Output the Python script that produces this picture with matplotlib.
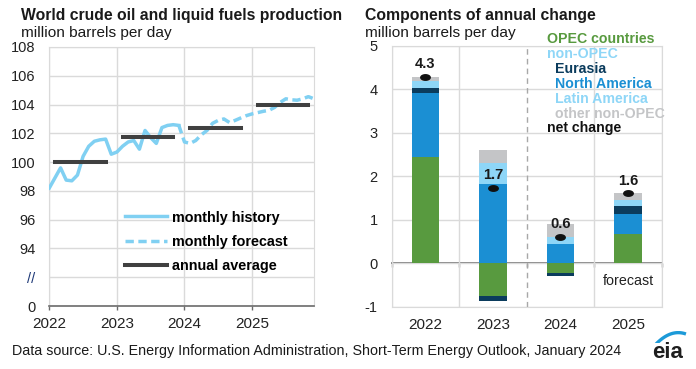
import numpy as np
import matplotlib
matplotlib.use("Agg")
import matplotlib.pyplot as plt
from matplotlib.lines import Line2D
from matplotlib.path import Path

plt.rcParams['font.family'] = ['Liberation Sans', 'DejaVu Sans']

# ---------------- data ----------------
hist_values = [98.2, 98.9, 99.6, 98.75, 98.7, 99.1, 100.4, 101.1, 101.45, 101.55, 101.6, 100.55,
               100.7, 101.1, 101.4, 101.5, 100.9, 102.2, 101.7, 101.3, 102.4, 102.55, 102.6, 102.55]
fcst_values = [102.55,
               101.4, 101.3, 101.5, 101.9, 102.2, 102.7, 102.9, 103.0, 102.75, 102.9, 103.07, 103.23,
               103.35, 103.44, 103.53, 103.6, 103.8, 104.15, 104.4, 104.33, 104.3, 104.4, 104.55, 104.4]
years = [2022, 2023, 2024, 2025]
annual_avg = [100.0, 101.75, 102.35, 103.95]

left_yticks = [90, 92, 94, 96, 98, 100, 102, 104, 106, 108]
left_yticklabels = ['0', '//', '94', '96', '98', '100', '102', '104', '106', '108']

categories = ['2022', '2023', '2024', '2025']
opec = [2.45, -0.75, -0.23, 0.67]
north_america = [1.47, 1.82, 0.44, 0.47]
eurasia = [0.11, -0.11, -0.06, 0.17]
latin_america = [0.16, 0.49, 0.17, 0.15]
other_nonopec = [0.10, 0.29, 0.29, 0.15]
net_change = [4.29, 1.74, 0.61, 1.61]
net_labels = ['4.3', '1.7', '0.6', '1.6']

# ---------------- style ----------------
C_OPEC = '#589a3f'
C_NA = '#1b8fd3'
C_EUR = '#0b3c5d'
C_LAT = '#8ed6f7'
C_OTH = '#c4c5c7'
C_LINE = '#80d0f2'
C_AVG = '#404040'
C_GRID = '#dadada'
C_AX = '#6b6b6b'
C_TXT = '#1a1a1a'

W, H = 696, 369
fig = plt.figure(figsize=(W / 100, H / 100), dpi=100)

def fx(px):
    return px / W

def fy(py):
    return 1 - py / H

# ---------------- left chart ----------------
axL = fig.add_axes([fx(49.3), fy(306), fx(314 - 49.3), (306 - 47) / H])
m_hist = 2022 + np.arange(len(hist_values)) / 12
m_fcst = 2022 + (len(hist_values) - 1 + np.arange(len(fcst_values))) / 12
axL.plot(m_hist, hist_values, color=C_LINE, lw=2.5, solid_joinstyle='round', zorder=3)
axL.plot(m_fcst, fcst_values, color=C_LINE, lw=2.5, linestyle=(0, (2.4, 1.3)), zorder=3)
for yr, v in zip(years, annual_avg):
    axL.plot([yr + 1 / 12, yr + 10 / 12], [v, v], color=C_AVG, lw=2.9,
             solid_capstyle='projecting', zorder=4)

axL.set_xlim(2022, 2022 + 47 / 12)
axL.set_ylim(90, 108)
axL.set_yticks(left_yticks)
axL.set_yticklabels(left_yticklabels)
axL.set_xticks(years)
axL.set_xticklabels([str(y) for y in years])
axL.tick_params(axis='y', length=0, pad=10, labelsize=10.5, labelcolor='#222222')
axL.tick_params(axis='x', length=3, width=1, color=C_AX, pad=5, labelsize=11, labelcolor='#222222')
axL.get_yticklabels()[1].set_color('#1f3a78')
axL.grid(True, color=C_GRID, lw=1)
axL.set_axisbelow(True)
for s in ['left', 'right', 'top']:
    axL.spines[s].set_color(C_GRID)
axL.spines['bottom'].set_color(C_AX)
axL.spines['bottom'].set_linewidth(1.2)

handles = [Line2D([], [], color=C_LINE, lw=2.5),
           Line2D([], [], color=C_LINE, lw=2.5, linestyle=(0, (2.4, 1.3))),
           Line2D([], [], color=C_AVG, lw=2.9)]
axL.legend(handles, ['monthly history', 'monthly forecast', 'annual average'],
           loc='upper left', bbox_to_anchor=(fx(125), fy(210.5)), bbox_transform=fig.transFigure,
           frameon=False, handlelength=2.9, handletextpad=0.35, labelspacing=0.72,
           borderpad=0, borderaxespad=0, prop={'weight': 'bold', 'size': 10.4})

# ---------------- right chart ----------------
axR = fig.add_axes([fx(391.7), fy(306.7), fx(661.7 - 391.7), (306.7 - 45.7) / H])
x = np.arange(len(categories))
bw = 0.405
pos_base = np.zeros(len(categories))
neg_base = np.zeros(len(categories))
for vals, col in [(opec, C_OPEC), (north_america, C_NA), (eurasia, C_EUR),
                  (latin_america, C_LAT), (other_nonopec, C_OTH)]:
    v = np.array(vals)
    bottoms = np.where(v >= 0, pos_base, neg_base)
    axR.bar(x, v, bw, bottom=bottoms, color=col, lw=0, zorder=3)
    pos_base = pos_base + np.where(v >= 0, v, 0)
    neg_base = neg_base + np.where(v < 0, v, 0)

t = np.linspace(0, 2 * np.pi, 40)
ell = Path(np.column_stack([np.cos(t), 0.58 * np.sin(t)]), closed=True)
axR.plot(x, net_change, linestyle='none', marker=ell, markersize=6.8,
         color='#111111', zorder=5)
for xi, v, lab in zip(x, net_change, net_labels):
    axR.annotate(lab, (xi, v), xytext=(0, 8.8), textcoords='offset points',
                 ha='center', va='center', fontsize=10.5, fontweight='bold',
                 color=C_TXT, zorder=6)

axR.set_xlim(-0.5, len(categories) - 0.5)
axR.set_ylim(-1, 5)
axR.set_yticks(range(-1, 6))
axR.set_yticklabels([str(v) for v in range(-1, 6)])
axR.set_xticks(x)
axR.set_xticklabels(categories)
axR.tick_params(axis='y', length=0, pad=10, labelsize=10.5, labelcolor='#222222')
axR.tick_params(axis='x', length=0, pad=8, labelsize=11, labelcolor='#222222')
axR.grid(True, axis='y', color=C_GRID, lw=1)
bounds = np.arange(len(categories) + 1) - 0.5
for b in bounds:
    if b == 1.5:
        axR.axvline(b, color='#a8a8a8', lw=1, linestyle=(0, (4, 3)), zorder=1)
    else:
        axR.axvline(b, color=C_GRID, lw=1, zorder=1)
axR.set_axisbelow(True)
for s in axR.spines.values():
    s.set_color(C_GRID)
sec = axR.secondary_xaxis(1 / 6)
sec.set_xticks(bounds)
sec.set_xticklabels([])
sec.tick_params(axis='x', length=3, width=1, color=C_AX, direction='out')
sec.spines['bottom'].set_color(C_AX)
sec.spines['bottom'].set_linewidth(1.2)
sec.spines['bottom'].set_zorder(4)
axR.text(3, -0.4, 'forecast', ha='center', va='center', fontsize=10.3, color='#222222')

# ---------------- right legend (coloured text) ----------------
leg_items = [('OPEC countries', C_OPEC, 546.7, 39.3),
             ('non-OPEC', C_LAT, 546.7, 54.3),
             ('Eurasia', C_EUR, 555, 69.3),
             ('North America', C_NA, 555, 84.3),
             ('Latin America', C_LAT, 555, 98.7),
             ('other non-OPEC', C_OTH, 555, 114.3),
             ('net change', '#111111', 546.7, 128.3)]
for txt, col, px, py in leg_items:
    fig.text(fx(px), fy(py), txt, color=col, fontsize=10.2, fontweight='bold',
             ha='left', va='center')

# ---------------- titles ----------------
fig.text(fx(20.7), fy(15.5), 'World crude oil and liquid fuels production',
         fontsize=11.3, fontweight='bold', color=C_TXT, ha='left', va='center')
fig.text(fx(20.7), fy(32.5), 'million barrels per day', fontsize=11.1,
         color=C_TXT, ha='left', va='center')
fig.text(fx(365), fy(15.5), 'Components of annual change',
         fontsize=11.3, fontweight='bold', color=C_TXT, ha='left', va='center')
fig.text(fx(365), fy(32.5), 'million barrels per day', fontsize=11.1,
         color=C_TXT, ha='left', va='center')

fig.text(fx(11.7), fy(351.5),
         'Data source: U.S. Energy Information Administration, Short-Term Energy Outlook, January 2024',
         fontsize=10.3, color=C_TXT, ha='left', va='center')

# ---------------- eia logo ----------------
fig.text(fx(667.5), fy(352), 'eia', fontsize=16, fontweight='bold', color='#1e1e1e',
         ha='center', va='center')
axLogo = fig.add_axes([fx(652), fy(343), fx(35), 12 / H])
axLogo.set_axis_off()
ta = np.linspace(0.1, 0.97, 30)
axLogo.plot(ta, 0.95 - 2.6 * (ta - 0.75) ** 2, color='#1c9ad8', lw=2.4, solid_capstyle='butt')
axLogo.set_xlim(0, 1)
axLogo.set_ylim(0, 1.1)

fig.savefig('out.png', dpi=100)
